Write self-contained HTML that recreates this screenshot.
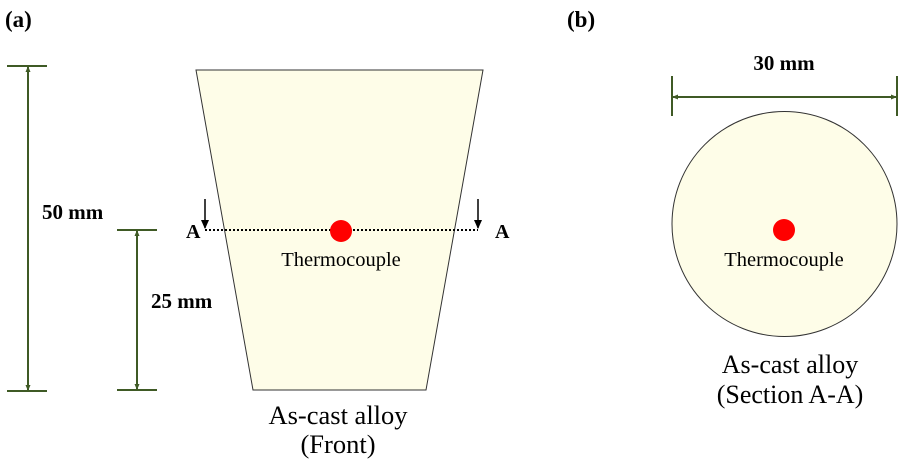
<!DOCTYPE html>
<html><head><meta charset="utf-8"><style>
html,body{margin:0;padding:0;background:#fff;width:910px;height:461px;overflow:hidden}
svg{display:block}
text{font-family:"Liberation Serif",serif}
</style></head><body>
<svg width="910" height="461" viewBox="0 0 910 461">
<defs>
<marker id="ah" markerWidth="6" markerHeight="6" refX="5" refY="3" orient="auto" markerUnits="userSpaceOnUse"><path d="M0,0.5 L6,3 L0,5.5 Z" fill="#3f5a25"/></marker>
<marker id="bk" markerWidth="10" markerHeight="10" refX="8" refY="4" orient="auto" markerUnits="userSpaceOnUse"><path d="M0,0 L9,4 L0,8 Z" fill="#000"/></marker>
</defs>
<text x="5" y="27" font-size="23" font-weight="bold">(a)</text>
<text x="567" y="27" font-size="23" font-weight="bold">(b)</text>
<polygon points="196,70 483,70 426,390 253,390" fill="#fefde8" stroke="#333" stroke-width="1"/>
<g stroke="#3f5a25" stroke-width="2">
<line x1="7" y1="66" x2="47" y2="66"/>
<line x1="7" y1="391" x2="47" y2="391"/>
<line x1="28" y1="390" x2="28" y2="67" marker-end="url(#ah)"/>
<line x1="28" y1="67" x2="28" y2="390" marker-end="url(#ah)"/>
<line x1="117" y1="230" x2="157" y2="230"/>
<line x1="117" y1="390" x2="157" y2="390"/>
<line x1="137" y1="389" x2="137" y2="231" marker-end="url(#ah)"/>
<line x1="137" y1="231" x2="137" y2="389" marker-end="url(#ah)"/>
</g>
<text x="42" y="219" font-size="21" font-weight="bold">50 mm</text>
<text x="151" y="308" font-size="21" font-weight="bold">25 mm</text>
<line x1="205" y1="230" x2="478" y2="230" stroke="#000" stroke-width="2" stroke-dasharray="2,2"/>
<line x1="205" y1="199" x2="205" y2="228" stroke="#000" stroke-width="1.5" marker-end="url(#bk)"/>
<line x1="478" y1="199" x2="478" y2="228" stroke="#000" stroke-width="1.5" marker-end="url(#bk)"/>
<text x="186" y="238" font-size="20" font-weight="bold">A</text>
<text x="495" y="238" font-size="20" font-weight="bold">A</text>
<circle cx="341" cy="231" r="11" fill="#f00"/>
<text x="341" y="266" font-size="20.5" text-anchor="middle">Thermocouple</text>
<text x="338" y="424" font-size="26.5" text-anchor="middle">As-cast alloy</text>
<text x="338" y="453" font-size="26.5" text-anchor="middle">(Front)</text>
<g stroke="#3f5a25" stroke-width="2">
<line x1="672" y1="76" x2="672" y2="116"/>
<line x1="897" y1="76" x2="897" y2="116"/>
<line x1="896" y1="97" x2="673" y2="97" marker-end="url(#ah)"/>
<line x1="673" y1="97" x2="896" y2="97" marker-end="url(#ah)"/>
</g>
<text x="784" y="70" font-size="21" font-weight="bold" text-anchor="middle">30 mm</text>
<circle cx="784.5" cy="224" r="112.5" fill="#fefde8" stroke="#333" stroke-width="1"/>
<circle cx="784" cy="230" r="11" fill="#f00"/>
<text x="784" y="266" font-size="20.5" text-anchor="middle">Thermocouple</text>
<text x="790" y="373" font-size="26" text-anchor="middle">As-cast alloy</text>
<text x="790" y="403" font-size="26" text-anchor="middle">(Section A-A)</text>
</svg>
</body></html>
